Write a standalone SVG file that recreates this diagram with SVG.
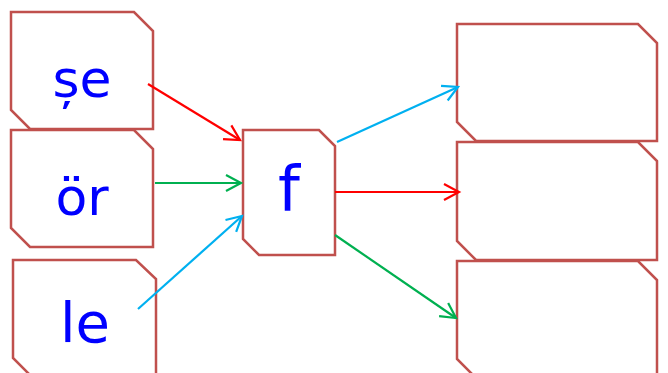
<svg xmlns="http://www.w3.org/2000/svg" width="668" height="373" viewBox="0 0 668 373">
<style>
.box{fill:#fff;stroke:#c0504d;stroke-width:2.5;stroke-linejoin:miter}
.t{font-family:"DejaVu Sans",sans-serif;fill:#0000ff;text-anchor:middle}
.c{fill:none;stroke-width:2.2}
</style>
<defs>
<marker id="mr" markerUnits="userSpaceOnUse" markerWidth="20" markerHeight="20" refX="0" refY="0" viewBox="-16 -10 18 20" orient="auto" overflow="visible"><path d="M-15,-8 L0,0 L-15,8" fill="none" stroke="#ff0000" stroke-width="2.2"/></marker>
<marker id="mg" markerUnits="userSpaceOnUse" markerWidth="20" markerHeight="20" refX="0" refY="0" viewBox="-16 -10 18 20" orient="auto" overflow="visible"><path d="M-15,-8 L0,0 L-15,8" fill="none" stroke="#00b050" stroke-width="2.2"/></marker>
<marker id="mc" markerUnits="userSpaceOnUse" markerWidth="20" markerHeight="20" refX="0" refY="0" viewBox="-16 -10 18 20" orient="auto" overflow="visible"><path d="M-15,-8 L0,0 L-15,8" fill="none" stroke="#00b0f0" stroke-width="2.2"/></marker>
</defs>
<g id="node-se">
<path class="box" d="M11,12 H134 L153,31 V129 H30 L11,110 Z"/>
<text class="t" x="82" y="97" font-size="52">șe</text>
</g>
<g id="node-or">
<path class="box" d="M11,130 H134 L153,149 V247 H30 L11,228 Z"/>
<text class="t" x="82" y="215" font-size="52">ör</text>
</g>
<g id="node-le">
<path class="box" d="M13,260 H136 L156,279 V377 H32 L13,358 Z"/>
<text class="t" x="85" y="342" font-size="56">le</text>
</g>
<g id="node-f">
<path class="box" d="M243,130 H319 L335,146 V255 H259 L243,239 Z"/>
<text class="t" x="289" y="210" font-size="62">f</text>
</g>
<g id="node-out1">
<path class="box" d="M457,24 H638 L657,43 V141 H476 L457,122 Z"/>
</g>
<g id="node-out2">
<path class="box" d="M457,142 H638 L657,161 V260 H476 L457,241 Z"/>
</g>
<g id="node-out3">
<path class="box" d="M457,261 H638 L657,280 V378 H476 L457,359 Z"/>
</g>
<g id="connectors">
<line class="c" x1="148" y1="84" x2="240" y2="140" stroke="#ff0000" marker-end="url(#mr)"/>
<line class="c" x1="155" y1="183" x2="241" y2="183" stroke="#00b050" marker-end="url(#mg)"/>
<line class="c" x1="138" y1="309" x2="242" y2="216" stroke="#00b0f0" marker-end="url(#mc)"/>
<line class="c" x1="337" y1="142" x2="458" y2="87" stroke="#00b0f0" marker-end="url(#mc)"/>
<line class="c" x1="335" y1="192" x2="459" y2="192" stroke="#ff0000" marker-end="url(#mr)"/>
<line class="c" x1="335" y1="235" x2="456" y2="318" stroke="#00b050" marker-end="url(#mg)"/>
</g>
</svg>
